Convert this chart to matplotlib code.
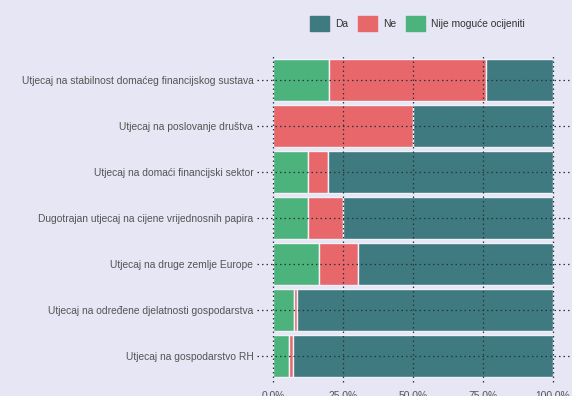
import numpy as np
import matplotlib.pyplot as plt
from matplotlib.patches import Patch
from matplotlib.lines import Line2D

# rows from bottom to top
categories = [
    "Utjecaj na gospodarstvo RH",
    "Utjecaj na određene djelatnosti gospodarstva",
    "Utjecaj na druge zemlje Europe",
    "Dugotrajan utjecaj na cijene vrijednosnih papira",
    "Utjecaj na domaći financijski sektor",
    "Utjecaj na poslovanje društva",
    "Utjecaj na stabilnost domaćeg financijskog sustava",
]
nije = [5.7, 7.2, 16.4, 12.5, 12.5, 0.0, 20.0]
ne = [1.3, 1.4, 13.8, 12.5, 7.0, 50.0, 56.0]
da = [93.0, 91.4, 69.8, 75.0, 80.5, 50.0, 24.0]
xticks = [0, 25, 50, 75, 100]

C_DA = "#3e7a7f"
C_NE = "#e8676a"
C_NIJE = "#4db37c"
BG = "#e6e6f4"
EDGE = "#f1f1fa"
GRID = "#26383d"

plt.rcParams['font.family'] = ['Liberation Sans', 'DejaVu Sans']

fig = plt.figure(figsize=(5.72, 3.96), dpi=100, facecolor=BG)
ax = fig.add_axes([0.478, 0.043, 0.489, 0.813])
ax.set_facecolor(BG)

y = np.arange(len(categories))
left_ne = np.array(nije)
left_da = left_ne + np.array(ne)
kw = dict(height=0.92, edgecolor=EDGE, linewidth=1.0, zorder=2)
ax.barh(y, nije, color=C_NIJE, **kw)
ax.barh(y, ne, left=left_ne, color=C_NE, **kw)
ax.barh(y, da, left=left_da, color=C_DA, **kw)

ax.set_xlim(0, 100)
ax.set_ylim(-0.5, len(categories) - 0.5)
for s in ax.spines.values():
    s.set_visible(False)

dot = (0, (1.2, 2.4))
# vertical grid lines, a bit past the plot
for t in xticks:
    ax.add_line(Line2D([t, t], [-0.56, len(categories) - 0.43], color=GRID,
                       lw=0.9, ls=dot, zorder=3, clip_on=False))
# horizontal lines through each row, reaching out past both sides
for yy in y:
    ax.add_line(Line2D([-6.0, 106], [yy, yy], color=GRID, lw=0.9, ls=dot,
                       zorder=3, clip_on=False))

ax.set_xticks(xticks)
ax.set_xticklabels([f"{t:.1f}%" for t in xticks])
ax.set_yticks(y)
ax.set_yticklabels(categories)
ax.tick_params(axis='both', length=0, labelsize=7.4, colors="#555555")
ax.tick_params(axis='y', pad=14.5)
ax.tick_params(axis='x', pad=9)

handles = [Patch(color=C_DA, label="Da"), Patch(color=C_NE, label="Ne"),
           Patch(color=C_NIJE, label="Nije moguće ocijeniti")]
fig.legend(handles=handles, loc='center', bbox_to_anchor=(0.73, 0.94), ncol=3,
           frameon=False, fontsize=7.4, handlelength=1.85, handleheight=1.85,
           handletextpad=0.6, columnspacing=0.95, labelcolor="#333333")

fig.savefig("out.png", dpi=100, facecolor=BG)
